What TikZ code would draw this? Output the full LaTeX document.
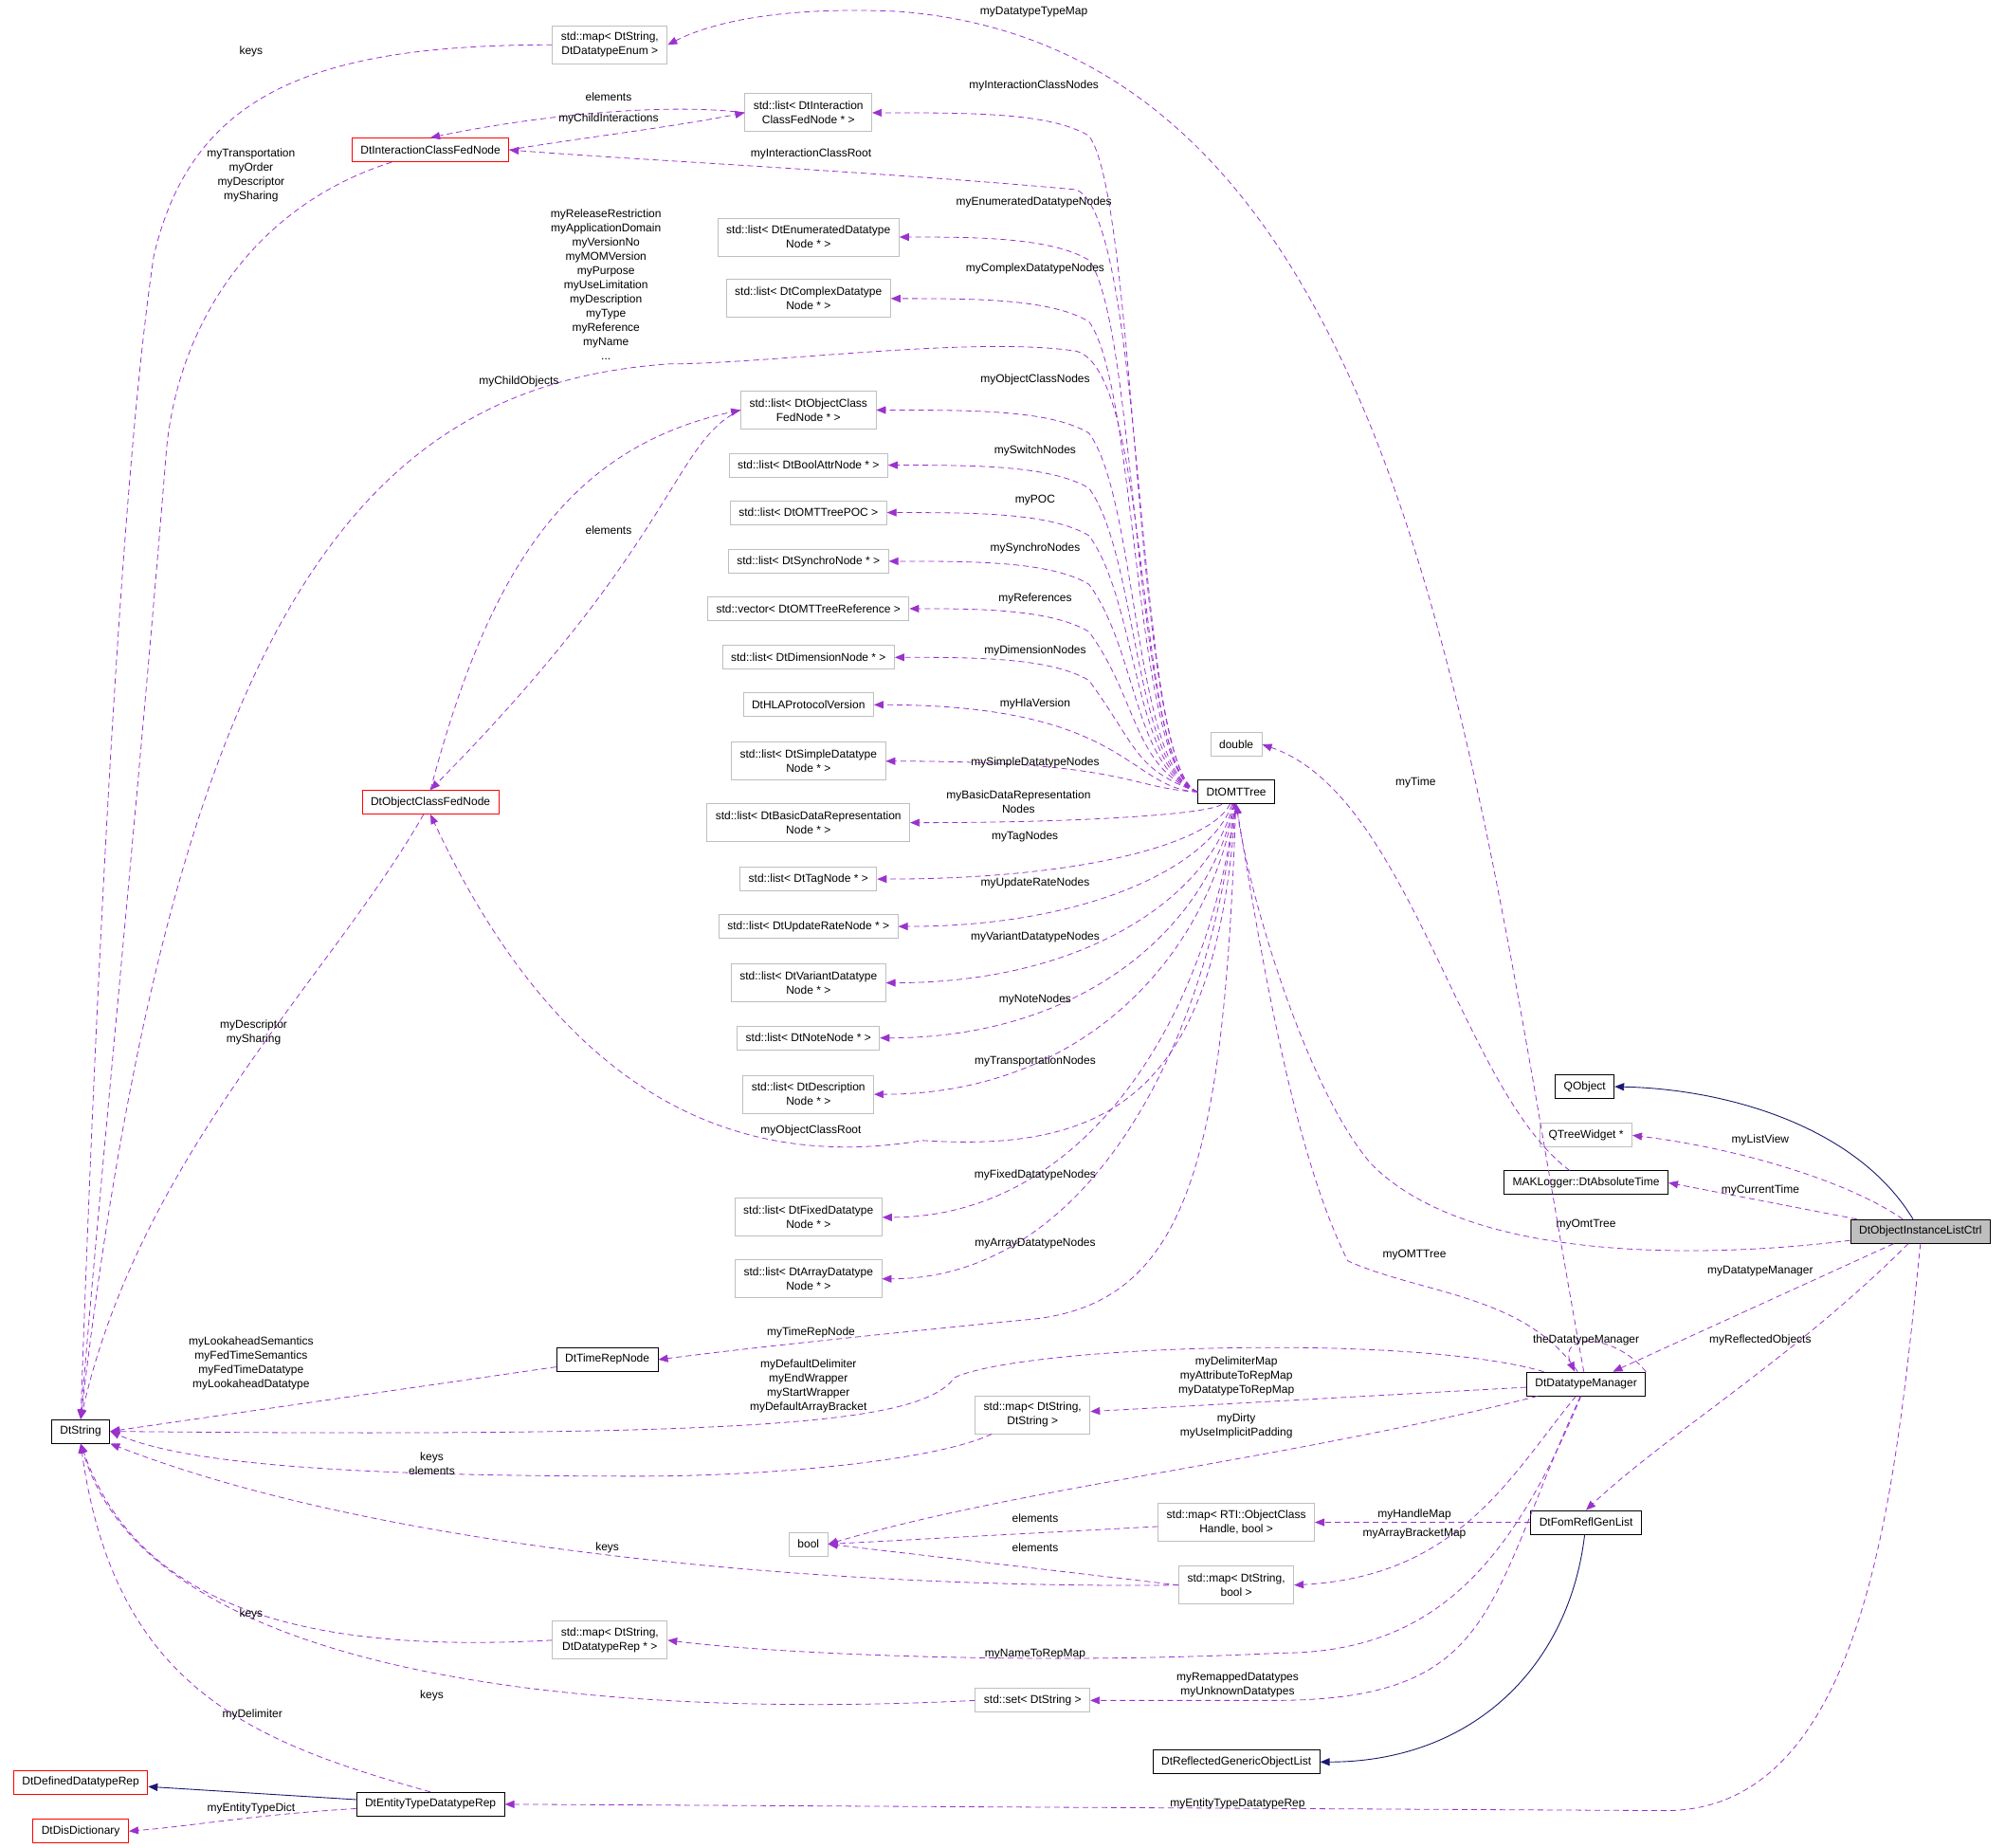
\documentclass[tikz,border=0pt]{standalone}
\usepackage{fontspec}
\setmainfont{Liberation Sans}
\usetikzlibrary{arrows.meta}
\definecolor{dep}{HTML}{9A32CD}
\definecolor{navyc}{HTML}{191970}
\definecolor{extg}{HTML}{BFBFBF}
\begin{document}
\begin{tikzpicture}[x=1.3514pt,y=-1.3514pt,
  every node/.style={font=\fontsize{12}{15}\selectfont},
  cls/.style={draw=black,line width=0.9pt,rectangle,minimum height=25pt,inner xsep=9pt,inner ysep=2pt,align=center},
  ext/.style={cls,draw=extg},
  ext2/.style={ext,minimum height=40pt},
  red/.style={cls,draw=red},
  lab/.style={align=center,inner sep=0pt},
  dep/.style={draw=dep,dash pattern=on 6pt off 4pt,line width=0.8pt,-{Triangle[length=10pt,width=8pt,fill=dep]}},
  inh/.style={draw=navyc,line width=0.9pt,-{Triangle[length=10pt,width=8pt,fill=navyc]}}]
\useasboundingbox (0,0) rectangle (1565,1442);
% nodes
\node[cls,fill=extg] (ctrl) at (1499,961) {DtObjectInstanceListCtrl};
\node[cls] (qobj) at (1237,848) {QObject};
\node[ext] (qtw) at (1238,886) {QTreeWidget *};
\node[cls] (mak) at (1238,923) {MAKLogger::DtAbsoluteTime};
\node[cls] (omt) at (965,618) {DtOMTTree};
\node[ext] (dbl) at (965,581) {double};
\node[cls] (dm) at (1238,1080) {DtDatatypeManager};
\node[cls] (frg) at (1238,1188) {DtFomReflGenList};
\node[cls] (rgo) at (965,1375) {DtReflectedGenericObjectList};
\node[cls] (etd) at (336,1408) {DtEntityTypeDatatypeRep};
\node[red] (ddr) at (63,1391) {DtDefinedDatatypeRep};
\node[red] (dis) at (63,1429) {DtDisDictionary};
\node[cls] (str) at (63,1117) {DtString};
\node[cls] (trn) at (474,1061) {DtTimeRepNode};
\node[red] (icf) at (336,117) {DtInteractionClassFedNode};
\node[red] (ocf) at (336,626) {DtObjectClassFedNode};
\node[ext2] (menum) at (476,35) {std::map< DtString,\\DtDatatypeEnum >};
\node[ext2] (l1) at (631,88) {std::list< DtInteraction\\ClassFedNode * >};
\node[ext2] (lEnum) at (631,185) {std::list< DtEnumeratedDatatype\\Node * >};
\node[ext2] (lCpx) at (631,233) {std::list< DtComplexDatatype\\Node * >};
\node[ext2] (lObj) at (631,320) {std::list< DtObjectClass\\FedNode * >};
\node[ext] (lBool) at (631,363) {std::list< DtBoolAttrNode * >};
\node[ext] (lPOC) at (631,400) {std::list< DtOMTTreePOC >};
\node[ext] (lSyn) at (631,438) {std::list< DtSynchroNode * >};
\node[ext] (lRef) at (631,475) {std::vector< DtOMTTreeReference >};
\node[ext] (lDim) at (631,513) {std::list< DtDimensionNode * >};
\node[ext] (lHLA) at (631,550) {DtHLAProtocolVersion};
\node[ext2] (lSim) at (631,594) {std::list< DtSimpleDatatype\\Node * >};
\node[ext2] (lBas) at (631,642) {std::list< DtBasicDataRepresentation\\Node * >};
\node[ext] (lTag) at (631,686) {std::list< DtTagNode * >};
\node[ext] (lUpd) at (631,723) {std::list< DtUpdateRateNode * >};
\node[ext2] (lVar) at (631,767) {std::list< DtVariantDatatype\\Node * >};
\node[ext] (lNote) at (631,810) {std::list< DtNoteNode * >};
\node[ext2] (lDesc) at (631,854) {std::list< DtDescription\\Node * >};
\node[ext2] (lFix) at (631,950) {std::list< DtFixedDatatype\\Node * >};
\node[ext2] (lArr) at (631,998) {std::list< DtArrayDatatype\\Node * >};
\node[ext2] (mss) at (806,1104) {std::map< DtString,\\DtString >};
\node[ext] (bool) at (631,1205) {bool};
\node[ext2] (mrti) at (965,1188) {std::map< RTI::ObjectClass\\Handle, bool >};
\node[ext2] (msb) at (965,1237) {std::map< DtString,\\bool >};
\node[ext2] (mdr) at (476,1280) {std::map< DtString,\\DtDatatypeRep * >};
\node[ext] (sset) at (806,1327) {std::set< DtString >};
% OMT fan
\foreach \n/\y in {l1/88,lEnum/185,lCpx/233,lObj/320,lBool/363,lPOC/400,lSyn/438,lRef/475,lDim/513}
  \draw[dep] (omt.west) .. controls (885,600) and (888,{\y+70}) .. (850,{\y+18}) .. controls (820,\y) and (760,\y) .. (\n.east);
\foreach \n/\y in {lHLA/550,lSim/594}
  \draw[dep] (omt.west) .. controls (880,615) and (880,\y) .. (\n.east);
\foreach \n/\y in {lBas/642,lTag/686,lUpd/723,lVar/767,lNote/810,lDesc/854,lFix/950,lArr/998}
  \draw[dep] (omt) .. controls (945,{(\y+628)/2}) and (850,\y) .. (\n.east);
\draw[dep] (omt.west) .. controls (885,600) and (895,170) .. (840,148) .. controls (700,135) and (500,125) .. (icf.east);
\draw[dep] (omt.west) .. controls (885,600) and (900,290) .. (840,274) .. controls (760,262) and (600,284) .. (522,284) .. controls (300,300) and (140,450) .. (str.north);
\draw[dep] (omt) .. controls (950,850) and (870,900) .. (720,890) .. controls (600,910) and (450,880) .. (ocf.south);
\draw[dep] (omt) .. controls (955,900) and (930,1020) .. (800,1030) .. controls (700,1040) and (600,1050) .. (trn.east);
% other edges
\draw[dep] (dm) .. controls (1150,600) and (1100,40) .. (702,9) .. controls (620,5) and (560,15) .. (menum.east);
\draw[dep] (menum.west) .. controls (250,35) and (150,70) .. (120,200) .. controls (90,400) and (70,900) .. (str.north);
\draw[dep] (l1.west) .. controls (520,80) and (420,90) .. (icf.north);
\draw[dep] (icf.east) .. controls (450,108) and (520,100) .. (l1.west);
\draw[dep] (icf) .. controls (200,160) and (140,250) .. (130,350) .. controls (110,600) and (80,900) .. (str.north);
\draw[dep] (ocf.north) .. controls (380,450) and (440,350) .. (lObj.west);
\draw[dep] (lObj.west) .. controls (525,345) and (530,420) .. (ocf.north);
\draw[dep] (ocf) .. controls (260,760) and (110,900) .. (str.north);
\draw[dep] (trn) -- (str.east);
\draw[dep] (dm) .. controls (1100,1040) and (800,1050) .. (745,1075) .. controls (720,1110) and (600,1122) .. (str.east);
\draw[dep] (dm) -- (mss);
\draw[dep] (mss) .. controls (730,1140) and (600,1152) .. (500,1152) .. controls (300,1152) and (150,1145) .. (str.east);
\draw[dep] (dm) .. controls (1000,1140) and (800,1160) .. (bool.east);
\draw[dep] (mrti) -- (bool.east);
\draw[dep] (msb.west) -- (bool.east);
\draw[dep] (msb.west) .. controls (650,1240) and (300,1210) .. (str.south east);
\draw[dep] (frg) -- (mrti);
\draw[dep] (dm) .. controls (1180,1150) and (1140,1230) .. (msb.east);
\draw[dep] (dm) .. controls (1180,1220) and (1120,1290) .. (999,1290) .. controls (800,1300) and (600,1290) .. (mdr.east);
\draw[dep] (dm) .. controls (1160,1250) and (1170,1325) .. (1000,1327) -- (sset.east);
\draw[dep] (mdr.west) .. controls (250,1290) and (110,1260) .. (str.south);
\draw[dep] (sset.west) .. controls (500,1340) and (120,1320) .. (str.south);
\draw[dep] (etd.north) .. controls (200,1360) and (90,1320) .. (str.south);
\draw[dep] (etd) .. controls (200,1416) and (150,1425) .. (dis.east);
\draw[inh] (etd) -- (ddr);
\draw[inh] (frg) .. controls (1225,1300) and (1150,1375) .. (rgo.east);
\draw[inh] (ctrl) .. controls (1450,880) and (1350,850) .. (qobj.east);
\draw[dep] (ctrl) .. controls (1440,920) and (1350,895) .. (qtw.east);
\draw[dep] (ctrl) -- (mak.east);
\draw[dep] (ctrl) .. controls (1350,980) and (1150,990) .. (1070,908) .. controls (1020,850) and (975,700) .. (omt.south);
\draw[dep] (dm) .. controls (1190,1010) and (1110,1010) .. (1052,984) .. controls (1010,900) and (985,750) .. (omt.south);
\draw[dep] (mak) .. controls (1140,850) and (1100,620) .. (dbl.east);
\draw[dep] (ctrl) -- (dm);
\draw[dep] (dm.north east) .. controls (1260,1040) and (1215,1040) .. ([xshift=-12pt]dm.north);
\draw[dep] (ctrl) .. controls (1400,1060) and (1300,1120) .. (frg.north);
\draw[dep] (ctrl.south) .. controls (1480,1150) and (1460,1413) .. (1300,1413) -- (etd.east);
% labels
\node[lab] (a1) at (807,9) {myDatatypeTypeMap};
\node[lab] (a2) at (807,67) {myInteractionClassNodes};
\node[lab] (a3) at (633,120) {myInteractionClassRoot};
\node[lab] (a4) at (807,158) {myEnumeratedDatatypeNodes};
\node[lab] (a5) at (808,210) {myComplexDatatypeNodes};
\node[lab] (a6) at (808,296) {myObjectClassNodes};
\node[lab] (a7) at (808,352) {mySwitchNodes};
\node[lab] (a8) at (808,390) {myPOC};
\node[lab] (a9) at (808,428) {mySynchroNodes};
\node[lab] (a10) at (808,467) {myReferences};
\node[lab] (a11) at (808,508) {myDimensionNodes};
\node[lab] (a12) at (808,549) {myHlaVersion};
\node[lab] (a13) at (808,595) {mySimpleDatatypeNodes};
\node[lab] (a14) at (795,626) {myBasicDataRepresentation\\Nodes};
\node[lab] (a15) at (800,653) {myTagNodes};
\node[lab] (a16) at (808,689) {myUpdateRateNodes};
\node[lab] (a17) at (808,731) {myVariantDatatypeNodes};
\node[lab] (a18) at (808,780) {myNoteNodes};
\node[lab] (a19) at (808,828) {myTransportationNodes};
\node[lab] (a20) at (633,882) {myObjectClassRoot};
\node[lab] (a21) at (808,917) {myFixedDatatypeNodes};
\node[lab] (a22) at (808,970) {myArrayDatatypeNodes};
\node[lab] (a23) at (633,1040) {myTimeRepNode};
\node[lab] (a24) at (196,40) {keys};
\node[lab] (a25) at (475,76) {elements};
\node[lab] (a26) at (475,93) {myChildInteractions};
\node[lab] (a27) at (196,137) {myTransportation\\myOrder\\myDescriptor\\mySharing};
\node[lab] (a28) at (473,222) {myReleaseRestriction\\myApplicationDomain\\myVersionNo\\myMOMVersion\\myPurpose\\myUseLimitation\\myDescription\\myType\\myReference\\myName\\...};
\node[lab] (a29) at (405,298) {myChildObjects};
\node[lab] (a30) at (475,414) {elements};
\node[lab] (a31) at (198,806) {myDescriptor\\mySharing};
\node[lab] (a32) at (196,1064) {myLookaheadSemantics\\myFedTimeSemantics\\myFedTimeDatatype\\myLookaheadDatatype};
\node[lab] (a33) at (631,1082) {myDefaultDelimiter\\myEndWrapper\\myStartWrapper\\myDefaultArrayBracket};
\node[lab] (a34) at (965,1074) {myDelimiterMap\\myAttributeToRepMap\\myDatatypeToRepMap};
\node[lab] (a35) at (337,1142) {keys\\elements};
\node[lab] (a36) at (965,1113) {myDirty\\myUseImplicitPadding};
\node[lab] (a37) at (808,1185) {elements};
\node[lab] (a38) at (808,1208) {elements};
\node[lab] (a39) at (474,1208) {keys};
\node[lab] (a40) at (1104,1182) {myHandleMap};
\node[lab] (a41) at (1104,1197) {myArrayBracketMap};
\node[lab] (a42) at (196,1260) {keys};
\node[lab] (a43) at (808,1291) {myNameToRepMap};
\node[lab] (a44) at (337,1323) {keys};
\node[lab] (a45) at (966,1315) {myRemappedDatatypes\\myUnknownDatatypes};
\node[lab] (a46) at (197,1338) {myDelimiter};
\node[lab] (a47) at (196,1411) {myEntityTypeDict};
\node[lab] (a48) at (966,1408) {myEntityTypeDatatypeRep};
\node[lab] (a49) at (1374,890) {myListView};
\node[lab] (a50) at (1374,929) {myCurrentTime};
\node[lab] (a51) at (1238,956) {myOmtTree};
\node[lab] (a52) at (1104,979) {myOMTTree};
\node[lab] (a53) at (1374,992) {myDatatypeManager};
\node[lab] (a54) at (1238,1046) {theDatatypeManager};
\node[lab] (a55) at (1374,1046) {myReflectedObjects};
\node[lab] (a56) at (1105,611) {myTime};
\end{tikzpicture}
\end{document}
